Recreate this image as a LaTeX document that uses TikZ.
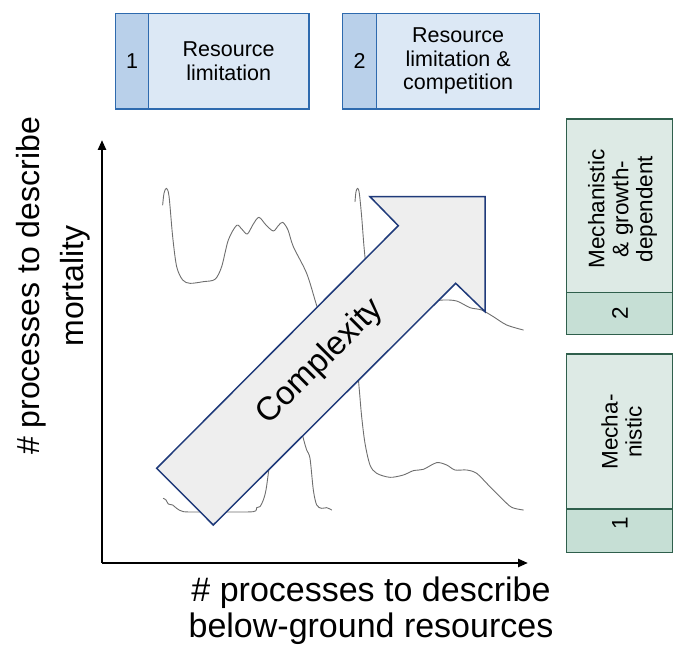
\documentclass[tikz,border=0pt]{standalone}
\usepackage{fontspec}
\setmainfont{Liberation Sans}
\usetikzlibrary{arrows.meta}

\definecolor{blueline}{HTML}{2E6AAE}
\definecolor{bluefill}{HTML}{DCE8F5}
\definecolor{bluestrip}{HTML}{B9D0EA}
\definecolor{greenline}{HTML}{2F5F4C}
\definecolor{greenfill}{HTML}{DDEAE5}
\definecolor{greenstrip}{HTML}{C6DFD5}
\definecolor{arrowline}{HTML}{1F3A7A}
\definecolor{arrowfill}{HTML}{EEEEEE}
\definecolor{curvegray}{HTML}{6E6E6E}

\tikzset{
  blueitem/.style={draw=blueline, fill=bluefill, line width=1.4pt, inner sep=0pt,
    anchor=north west, align=center, font=\fontsize{21.5}{23.5}\selectfont},
  bluenum/.style={blueitem, fill=bluestrip},
  greenitem/.style={draw=greenline, fill=greenfill, line width=1.4pt, inner sep=0pt,
    anchor=north west},
  greennum/.style={greenitem, fill=greenstrip},
  sidetext/.style={rotate=90, align=center, font=\fontsize{22.5}{24}\selectfont},
  axisline/.style={line width=2.4pt, -{Triangle[length=10pt,width=8pt]}},
  axislabel/.style={align=center, text=black},
  trace/.style={curvegray, line width=0.9pt, line join=round, line cap=round},
  bigarrow/.style={draw=arrowline, fill=arrowfill, line width=1.5pt, line join=miter}
}

\begin{document}
\begin{tikzpicture}[x=1pt, y=-1pt]
\useasboundingbox (0,0) rectangle (678,650);

% ---- model boxes along the top ----
\node[bluenum, minimum width=32.7pt, minimum height=95.6pt] (n1) at (115,12.7) {1};
\node[blueitem, minimum width=160.6pt, minimum height=95.6pt] (t1) at (147.7,12.7) {Resource\\limitation};
\node[bluenum, minimum width=34.3pt, minimum height=95.6pt] (n2) at (341.7,12.7) {2};
\node[blueitem, minimum width=163pt, minimum height=95.6pt] (t2) at (376,12.7) {Resource\\limitation \&\\competition};

% ---- model boxes on the right ----
\node[greenitem, minimum width=105.7pt, minimum height=173.4pt] (m2) at (566,118.3) {};
\node[greennum, minimum width=105.7pt, minimum height=42.3pt] (k2) at (566,291.7) {};
\node[sidetext] (m2txt) at (622.5,209) {Mechanistic\\\& growth-\\dependent};
\node[sidetext] (k2txt) at (620,313) {2};

\node[greenitem, minimum width=105.7pt, minimum height=155pt] (m1) at (566,353.3) {};
\node[greennum, minimum width=105.7pt, minimum height=43.4pt] (k1) at (566,508.3) {};
\node[sidetext] (m1txt) at (621.7,432) {Mecha-\\nistic};
\node[sidetext] (k1txt) at (620,523) {1};

% ---- axes ----
\coordinate (origin) at (102,563);
\coordinate (ytip) at (102,140);
\coordinate (xtip) at (528,563);
\draw[axisline] (origin) -- (ytip);
\draw[axisline] (origin) -- (xtip);

\node[axislabel, font=\fontsize{34}{36}\selectfont] (xlab) at (371,611)
  {\# processes to describe\\below-ground resources};
\node[axislabel, rotate=90, font=\fontsize{32}{44}\selectfont] (ylab) at (53,286)
  {\# processes to describe\\mortality};

% ---- distribution traces ----
\begin{scope}[shift={(90,130)}, x=0.33333pt, y=-0.33333pt]
  \draw[trace] plot[smooth, tension=0.5] coordinates {
    (218,225) (222,190) (229,175) (237,198) (248,320) (260,410) (278,450) (300,460)
    (340,455) (375,448) (395,410) (415,330) (440,286) (456,298) (472,312) (490,282)
    (507,262) (528,285) (550,303) (565,287) (578,277) (594,300) (610,350) (650,430)
    (678,520) (700,590)};
  \draw[trace] plot[smooth, tension=0.5] coordinates {
    (625,860) (640,925) (650,960) (660,985) (670,1080) (680,1125) (695,1135)
    (710,1133) (725,1140)};
  \draw[trace] plot[smooth, tension=0.5] coordinates {
    (220,1105) (228,1110) (235,1122) (248,1125) (260,1135) (280,1145) (330,1146)
    (400,1146) (490,1145) (500,1133) (510,1130) (520,1110) (528,1080) (535,1030)
    (540,990)};
  \draw[trace] plot[smooth, tension=0.5] coordinates {
    (795,215) (798,185) (803,175) (808,190) (815,260) (822,350) (830,430)};
  \draw[trace] plot[smooth, tension=0.5] coordinates {
    (1020,515) (1060,510) (1100,513) (1140,533) (1175,540) (1210,560) (1250,585)
    (1300,600)};
  \draw[trace] plot[smooth, tension=0.5] coordinates {
    (800,690) (808,780) (815,860) (825,940) (840,1005) (860,1030) (900,1042)
    (940,1035) (970,1022) (1000,1018) (1040,998) (1070,1005) (1095,1020)
    (1130,1020) (1160,1030) (1195,1065) (1235,1105) (1265,1132) (1300,1140)};
\end{scope}

% ---- complexity arrow ----
\draw[bigarrow] (156.7,468.3) -- (398.3,225.7) -- (370,196.7) -- (485,196.7)
  -- (485,311.7) -- (455.7,283.3) -- (213.3,525) -- cycle;
\node[rotate=45, font=\fontsize{33}{36}\selectfont] (cx) at (320.5,362) {Complexity};

\end{tikzpicture}
\end{document}
